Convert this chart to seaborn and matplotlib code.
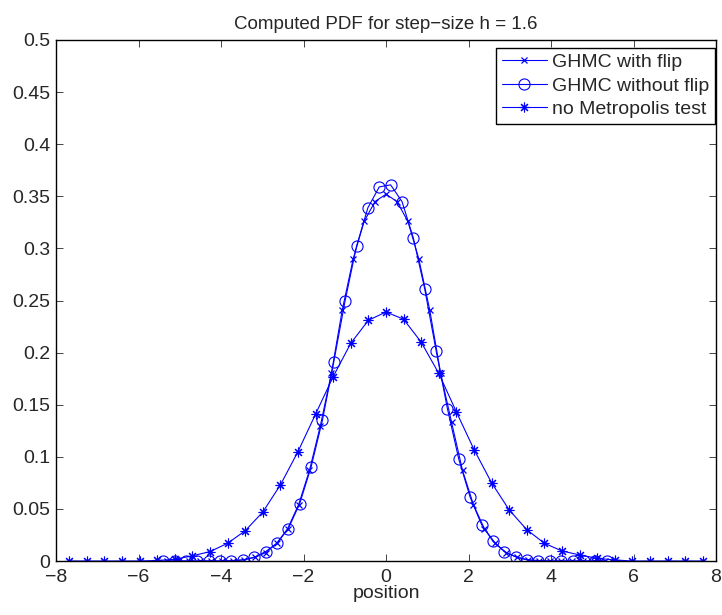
import numpy as np
import pandas as pd
import seaborn as sns
import matplotlib
matplotlib.use("Agg")
import matplotlib.pyplot as plt

# GHMC with flip (crosses), bins of width ~0.265 centred on 0
flip_x = [k * 0.265 for k in range(-20, 21)]
flip_y = [0, 0, 0, 0, 0, 0, 0.0004, 0.0012, 0.0035, 0.008, 0.017, 0.031, 0.054,
          0.087, 0.130, 0.180, 0.241, 0.290, 0.326, 0.345, 0.352, 0.345, 0.326,
          0.290, 0.241, 0.180, 0.133, 0.087, 0.054, 0.031, 0.017, 0.008, 0.0035,
          0.0012, 0.0004, 0, 0, 0, 0, 0, 0]

# GHMC without flip (circles)
noflip_x = [-5.40 + i * 0.2756 for i in range(40)]
noflip_y = [0, 0, 0, 0, 0, 0, 0, 0.001, 0.0035, 0.009, 0.017, 0.031, 0.055,
            0.090, 0.135, 0.191, 0.250, 0.302, 0.339, 0.359, 0.361, 0.345, 0.310,
            0.261, 0.202, 0.146, 0.0975, 0.061, 0.035, 0.019, 0.009, 0.004, 0.001,
            0, 0, 0, 0, 0, 0, 0]

# no Metropolis test (stars)
nomet_x = [k * 0.4267 for k in range(-18, 19)]
nomet_y = [0, 0, 0, 0, 0, 0.0005, 0.0016, 0.005, 0.009, 0.017, 0.029, 0.047,
           0.073, 0.105, 0.141, 0.177, 0.209, 0.231, 0.239, 0.232, 0.210, 0.180,
           0.143, 0.107, 0.075, 0.049, 0.030, 0.017, 0.0096, 0.0058, 0.0026,
           0.001, 0, 0, 0, 0, 0]

sns.set_style("ticks")
plt.rcParams['font.family'] = ['Liberation Sans', 'DejaVu Sans']
plt.rcParams['axes.unicode_minus'] = True

fig = plt.figure(figsize=(7.22, 6.15), dpi=100)
ax = fig.add_axes([56 / 722, 54 / 615, 660 / 722, 521 / 615])

blue = (0, 0, 1)
sns.lineplot(x=flip_x, y=flip_y, ax=ax, color=blue, lw=0.8, marker='x',
             markersize=5, markeredgewidth=0.9, markeredgecolor=blue,
             label='GHMC with flip')
sns.lineplot(x=noflip_x, y=noflip_y, ax=ax, color=blue, lw=0.8, marker='o',
             markersize=8, markerfacecolor='none', markeredgecolor=blue,
             markeredgewidth=0.8, label='GHMC without flip')
sns.lineplot(x=nomet_x, y=nomet_y, ax=ax, color=blue, lw=0.8, marker=(8, 2, 0),
             markersize=7, markeredgewidth=0.8, markeredgecolor=blue,
             label='no Metropolis test')

ax.set_xlim(-8, 8)
ax.set_ylim(0, 0.5)
ax.set_xticks(np.arange(-8, 9, 2))
ax.set_yticks(np.arange(0, 0.51, 0.05))
ax.set_yticklabels(['0', '0.05', '0.1', '0.15', '0.2', '0.25', '0.3', '0.35',
                    '0.4', '0.45', '0.5'])
ax.tick_params(direction='in', length=5, width=0.6, labelsize=14,
               top=True, right=True, pad=4)
ax.tick_params(axis='x', pad=6)
for s in ax.spines.values():
    s.set_visible(True)
    s.set_linewidth(1.0)
    s.set_color('black')

ax.set_xlabel('position', fontsize=14, labelpad=-1)
ax.set_title('Computed PDF for step\u2212size h = 1.6', fontsize=13.5, pad=8)

leg = ax.legend(loc='upper right', bbox_to_anchor=(0.998, 0.985),
                borderaxespad=0, fontsize=14, frameon=True, fancybox=False,
                edgecolor='black', framealpha=1, handlelength=2.3,
                handletextpad=0.25, labelspacing=0.3, borderpad=0.3)
leg.get_frame().set_linewidth(1.0)

fig.savefig('out.png', dpi=100)
